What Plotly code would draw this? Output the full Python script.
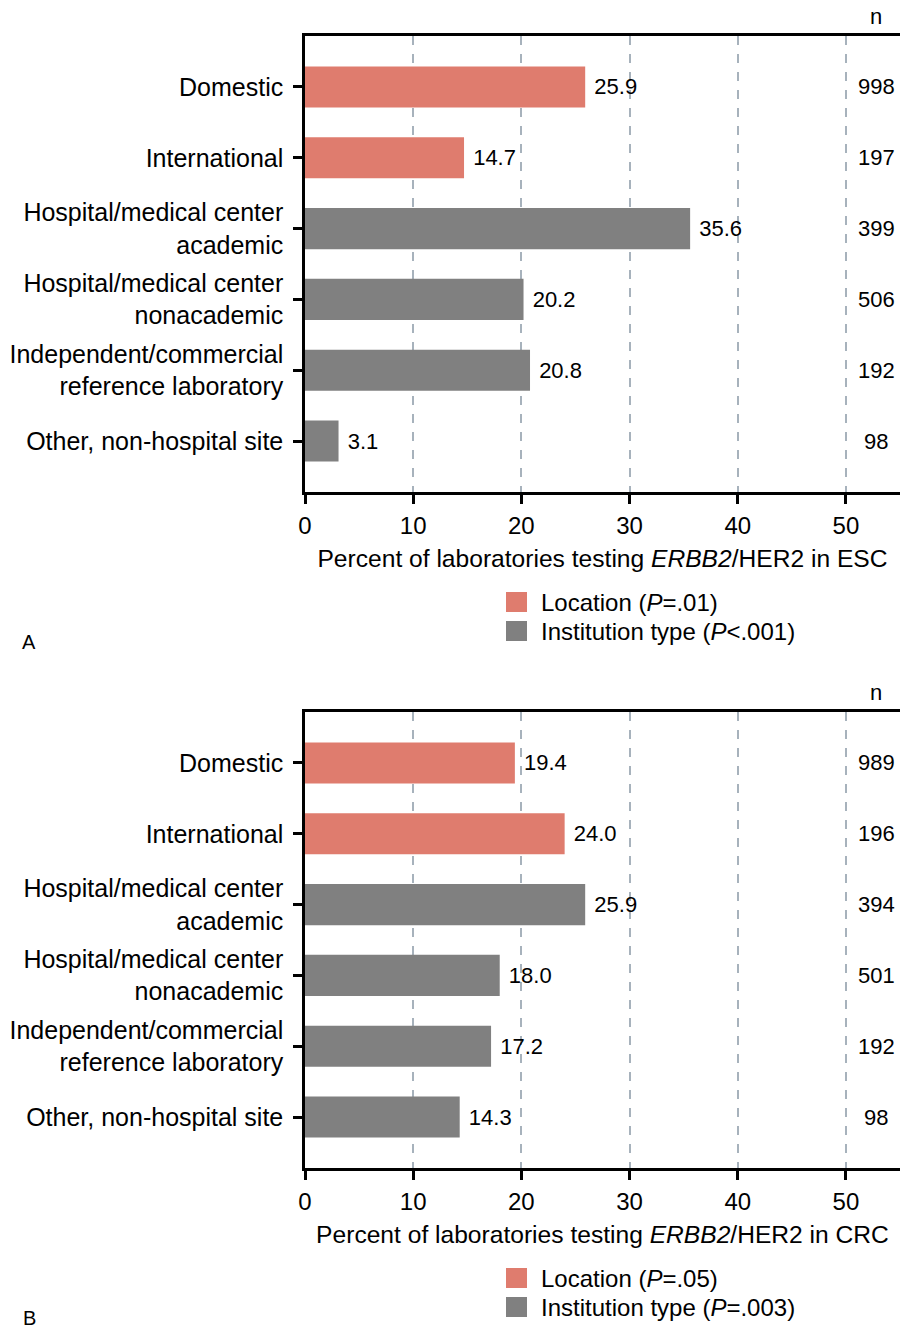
import plotly.graph_objects as go

W, H = 900, 1328

categories = [
    "Domestic",
    "International",
    "Hospital/medical center<br>academic",
    "Hospital/medical center<br>nonacademic",
    "Independent/commercial<br>reference laboratory",
    "Other, non-hospital site",
]
groups = ["Location", "Location", "Institution type", "Institution type",
          "Institution type", "Institution type"]

esc_pct = [25.9, 14.7, 35.6, 20.2, 20.8, 3.1]
esc_n = [998, 197, 399, 506, 192, 98]
crc_pct = [19.4, 24.0, 25.9, 18.0, 17.2, 14.3]
crc_n = [989, 196, 394, 501, 192, 98]

x_ticks = [0, 10, 20, 30, 40, 50]
esc_title = "Percent of laboratories testing <i>ERBB2</i>/HER2 in ESC"
crc_title = "Percent of laboratories testing <i>ERBB2</i>/HER2 in CRC"
esc_legend = ["Location (<i>P</i>=.01)", "Institution type (<i>P</i><.001)"]
crc_legend = ["Location (<i>P</i>=.05)", "Institution type (<i>P</i>=.003)"]

COLORS = {"Location": "#DF7C6E", "Institution type": "#808080"}
FONT = "Liberation Sans, Arial, Helvetica, sans-serif"


def px_x(p):
    return p / W


def px_y(p):
    return 1 - p / H


fig = go.Figure()

panels = [
    dict(pct=esc_pct, n=esc_n, xa="x", ya="y", title=esc_title, legend=esc_legend,
         off=0, letter="A"),
    dict(pct=crc_pct, n=crc_n, xa="x2", ya="y2", title=crc_title, legend=crc_legend,
         off=676, letter="B"),
]

annotations = []
shapes = []

for p in panels:
    for g in ["Location", "Institution type"]:
        idx = [i for i, gg in enumerate(groups) if gg == g]
        fig.add_trace(go.Bar(
            x=[p["pct"][i] for i in idx],
            y=[categories[i] for i in idx],
            orientation="h",
            marker=dict(color=COLORS[g], line=dict(width=0)),
            width=0.58,
            text=[f"\u00a0{p['pct'][i]:.1f}" for i in idx],
            textposition="outside",
            textfont=dict(size=22, color="black", family=FONT),
            cliponaxis=False,
            xaxis=p["xa"], yaxis=p["ya"],
            showlegend=False,
            hoverinfo="skip",
        ))
    # n column
    for c, nv in zip(categories, p["n"]):
        annotations.append(dict(
            x=px_x(876), xref="paper", y=c, yref=p["ya"],
            text=str(nv), showarrow=False, xanchor="center", yanchor="middle",
            font=dict(size=22, color="black", family=FONT)))
    annotations.append(dict(
        x=px_x(876), xref="paper", y=px_y(16 + p["off"]), yref="paper",
        text="n", showarrow=False, xanchor="center", yanchor="middle",
        font=dict(size=22, color="black", family=FONT)))
    # panel letter
    annotations.append(dict(
        x=px_x(29), xref="paper", y=px_y(642 + p["off"]), yref="paper",
        text=p["letter"], showarrow=False, xanchor="center", yanchor="middle",
        font=dict(size=20, color="black", family=FONT)))
    # manual legend
    for k, (g, lab) in enumerate(zip(["Location", "Institution type"], p["legend"])):
        cy = 602 + 29 * k + p["off"]
        shapes.append(dict(
            type="rect", xref="paper", yref="paper",
            x0=px_x(506), x1=px_x(527), y0=px_y(cy - 10), y1=px_y(cy + 10),
            fillcolor=COLORS[g], line=dict(width=0)))
        annotations.append(dict(
            x=px_x(539), xref="paper", y=px_y(cy), yref="paper",
            text=lab, showarrow=False, xanchor="left", yanchor="middle",
            font=dict(size=24, color="black", family=FONT)))

axis_common_x = dict(
    range=[0, 55], tickvals=x_ticks, showline=True, linecolor="black", linewidth=2.5,
    mirror=True, ticks="outside", ticklen=9, tickwidth=2.5, tickcolor="black",
    showgrid=True, gridcolor="#A7B2BC", gridwidth=1.5, griddash="dash",
    zeroline=False, tickfont=dict(size=24, color="black", family=FONT),
    ticklabelstandoff=1,
    domain=[305 / W, 1],
)
axis_common_y = dict(
    type="category", categoryorder="array", categoryarray=categories,
    range=[5.72, -0.72], showline=True, linecolor="black", linewidth=2.5,
    ticks="outside", ticklen=9, tickwidth=2.5, tickcolor="black",
    showgrid=False, zeroline=False, ticklabelstandoff=5,
    tickfont=dict(size=25, color="black", family=FONT),
)

fig.update_layout(
    width=W, height=H,
    margin=dict(l=0, r=0, t=0, b=0, autoexpand=False),
    paper_bgcolor="white", plot_bgcolor="white",
    font=dict(family=FONT, color="black"),
    showlegend=False,
    xaxis=dict(axis_common_x, anchor="y",
               title=dict(text=esc_title, font=dict(size=24.6, color="black", family=FONT), standoff=13)),
    yaxis=dict(axis_common_y, anchor="x", domain=[px_y(492), px_y(36)]),
    xaxis2=dict(axis_common_x, anchor="y2",
                title=dict(text=crc_title, font=dict(size=24.6, color="black", family=FONT), standoff=13)),
    yaxis2=dict(axis_common_y, anchor="x2", domain=[px_y(1168), px_y(712)]),
    annotations=annotations,
    shapes=shapes,
)

fig.write_html("out.html", config={"displayModeBar": False},
               post_script="document.body.style.margin='0px';document.body.style.overflow='hidden';")
